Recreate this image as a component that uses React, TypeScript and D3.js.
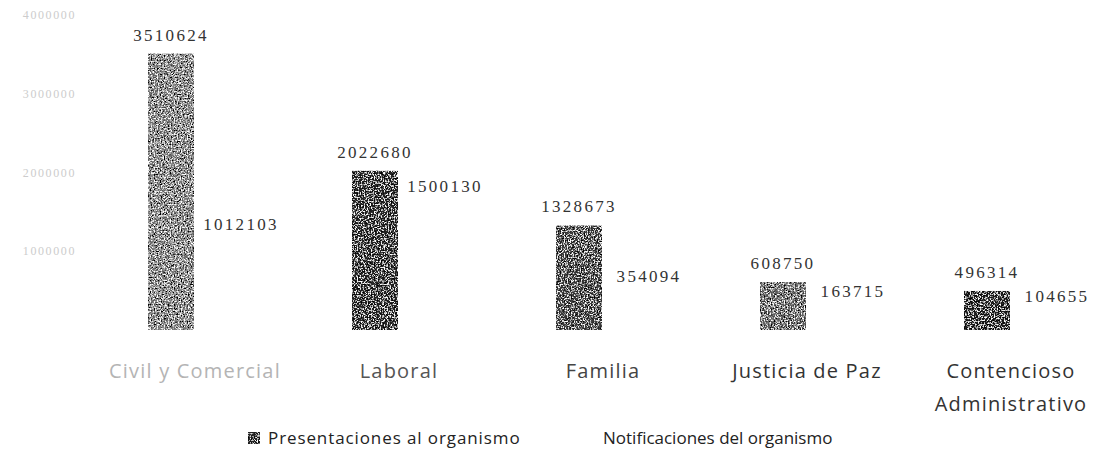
import React from 'react';
import * as d3 from 'd3';

const categories = ['Civil y Comercial', 'Laboral', 'Familia', 'Justicia de Paz', 'Contencioso Administrativo'];
const presentaciones = [3510624, 2022680, 1328673, 608750, 496314];
const notificaciones = [1012103, 1500130, 354094, 163715, 104655];
const seriesNames = ['Presentaciones al organismo', 'Notificaciones del organismo'];
const yTicks = [1000000, 2000000, 3000000, 4000000];

// scanned look: each bar has its own grey tone, labels fade on the left
const barShades = ['#8a8a8a', '#2a2a2a', '#444', '#6e6e6e', '#222'];
const catColors = ['#b4b4b4', '#555', '#444', '#333', '#333'];

const W = 1119;
const H = 463;

function App() {
  const x = d3.scaleBand<string>().domain(categories).range([85, 1105]);
  const inner = d3
    .scaleBand<string>()
    .domain(seriesNames)
    .range([63, 179])
    .paddingInner(0.343);
  const y = d3.scaleLinear().domain([0, 4000000]).range([330, 15]);

  const center = (c: string) => (x(c) ?? 0) + x.bandwidth() / 2;

  return (
    <svg width={W} height={H} style={{ position: 'absolute', left: 0, top: 0, background: '#fff' }}>
      <defs>
        <filter id="grain" x="0" y="0" width="1" height="1">
          <feTurbulence type="fractalNoise" baseFrequency="0.7" numOctaves="3" seed="4" result="noise" />
          <feColorMatrix
            in="noise"
            type="matrix"
            values="2.4 0 0 0 -0.7  2.4 0 0 0 -0.7  2.4 0 0 0 -0.7  0 0 0 0 1"
            result="grey"
          />
          <feBlend in="SourceGraphic" in2="grey" mode="overlay" result="mix" />
          <feComposite in="mix" in2="SourceGraphic" operator="in" />
        </filter>
      </defs>

      {/* y axis labels, faint as in the scan */}
      <g fontFamily="'Liberation Serif', serif" fontSize={12} fill="#cccccc">
        {yTicks.map((t) => (
          <text key={t} x={76} y={y(t) + 4} textAnchor="end" letterSpacing={1.6}>
            {t}
          </text>
        ))}
      </g>

      {/* bars */}
      {categories.map((c, i) => {
        const x0 = x(c) ?? 0;
        const xp = x0 + (inner(seriesNames[0]) ?? 0);
        const xn = x0 + (inner(seriesNames[1]) ?? 0);
        const bw = inner.bandwidth();
        return (
          <g key={c}>
            <rect
              x={xp}
              y={y(presentaciones[i])}
              width={bw}
              height={y(0) - y(presentaciones[i])}
              fill={barShades[i]}
              filter="url(#grain)"
            />
            <rect
              x={xn}
              y={y(notificaciones[i])}
              width={bw}
              height={y(0) - y(notificaciones[i])}
              fill="#fff"
            />
            <text
              x={xp + bw / 2}
              y={y(presentaciones[i]) - 13}
              textAnchor="middle"
              fontFamily="'Liberation Serif', serif"
              fontSize={17}
              letterSpacing={2.3}
              fill="#333"
            >
              {presentaciones[i]}
            </text>
            <text
              x={xn + bw / 2}
              y={y(notificaciones[i]) - 20}
              textAnchor="middle"
              fontFamily="'Liberation Serif', serif"
              fontSize={17}
              letterSpacing={2.3}
              fill="#333"
            >
              {notificaciones[i]}
            </text>
          </g>
        );
      })}

      {/* category labels */}
      <g fontFamily="'Open Sans', sans-serif" fontSize={20} textAnchor="middle">
        {categories.map((c, i) => {
          const words = c === 'Contencioso Administrativo' ? ['Contencioso', 'Administrativo'] : [c];
          return (
            <text key={c} x={center(c) + 8} y={378} fill={catColors[i]} letterSpacing={1.2}>
              {words.map((w, j) => (
                <tspan key={w} x={center(c) + 8} dy={j === 0 ? 0 : 33}>
                  {w}
                </tspan>
              ))}
            </text>
          );
        })}
      </g>

      {/* legend */}
      <g fontFamily="'Open Sans', sans-serif" fontSize={17} fill="#222">
        <rect x={248} y={432} width={12} height={12} fill={barShades[1]} filter="url(#grain)" />
        <text x={268} y={444} letterSpacing={0.9}>{seriesNames[0]}</text>
        <rect x={588} y={432} width={12} height={12} fill="#fff" />
        <text x={603} y={444}>{seriesNames[1]}</text>
      </g>
    </svg>
  );
}

export default App;
